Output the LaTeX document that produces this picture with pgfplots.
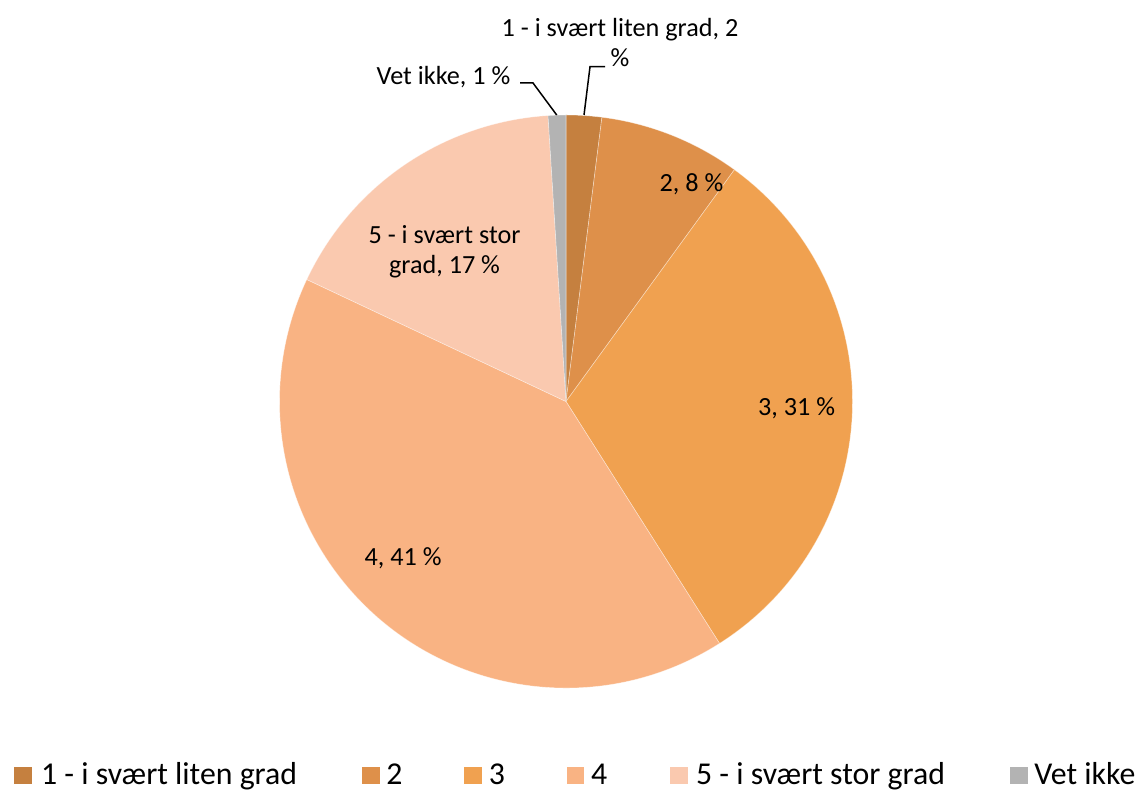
\documentclass[border=0pt]{standalone}
\usepackage{pgfplots}
\usepackage{pgfplotstable}
\pgfplotsset{compat=1.18}
\usepackage{fontspec}
\setmainfont{Carlito}

\definecolor{pie0}{RGB}{197,128,63}
\definecolor{pie1}{RGB}{222,144,74}
\definecolor{pie2}{RGB}{240,161,80}
\definecolor{pie3}{RGB}{249,179,131}
\definecolor{pie4}{RGB}{250,201,175}
\definecolor{pie5}{RGB}{179,179,179}

% shares in percent, clockwise from 12 o'clock
\pgfplotstableread[col sep=semicolon]{
label;value
1 - i svært liten grad;2
2;8
3;31
4;41
5 - i svært stor grad;17
Vet ikke;1
}\piedata

\begin{document}
\begin{tikzpicture}
\begin{axis}[
    hide axis,
    clip=false,
    x=0.5pt, y=0.5pt,
    xmin=0, xmax=1143,
    ymin=0, ymax=791,
    font=\fontsize{13.1}{15}\selectfont,
]
% pie slices
\def\angleacc{90}
\pgfplotsforeachungrouped \i in {0,...,5}{
  \pgfplotstablegetelem{\i}{value}\of\piedata
  \let\v\pgfplotsretval
  \pgfmathsetmacro\aend{\angleacc-3.6*\v}
  \edef\temp{\noexpand\fill[pie\i, draw=white, draw opacity=0.45, line width=0.3pt]
    (axis cs:566,389.5) -- ++(\angleacc:143.25pt)
    arc[start angle=\angleacc, end angle=\aend, radius=143.25pt] -- cycle;}
  \temp
  \global\let\angleacc\aend
}

% data labels
\node[align=center] at (axis cs:620,748) {1 - i svært liten grad, 2\\\%};
\node at (axis cs:443.5,714) {Vet ikke, 1 \%};
\node at (axis cs:691.5,607) {2, 8 \%};
\node at (axis cs:796.5,383) {3, 31 \%};
\node at (axis cs:403,233) {4, 41 \%};
\node[align=center] at (axis cs:444.5,539.3) {5 - i svært stor\\grad, 17 \%};

% leader lines
\draw[black, line width=0.75pt] (axis cs:520,708) -- (axis cs:533,708) -- (axis cs:556.7,676);
\draw[black, line width=0.75pt] (axis cs:605,724.3) -- (axis cs:590,724.3) -- (axis cs:584,676);

% legend
\foreach \sx/\tx/\c/\t in {14/40.7/pie0/{1 - i svært liten grad},
                           362/386/pie1/{2},
                           464/488.5/pie2/{3},
                           566.7/590.7/pie3/{4},
                           670/695.7/pie4/{5 - i svært stor grad},
                           1010/1034/pie5/{Vet ikke}}{
  \edef\temp{\noexpand\fill[\c] (axis cs:\sx,6.7) rectangle (axis cs:\sx+17.7,24.4);}
  \temp
  \edef\temp{\noexpand\node[anchor=base west, inner sep=0pt, font=\noexpand\fontsize{15.9}{18}\noexpand\selectfont] at (axis cs:\tx,7) {\t};}
  \temp
}
\end{axis}
\pgfresetboundingbox
\useasboundingbox (0,0) rectangle (571.5pt,395.5pt);
\end{tikzpicture}
\end{document}
